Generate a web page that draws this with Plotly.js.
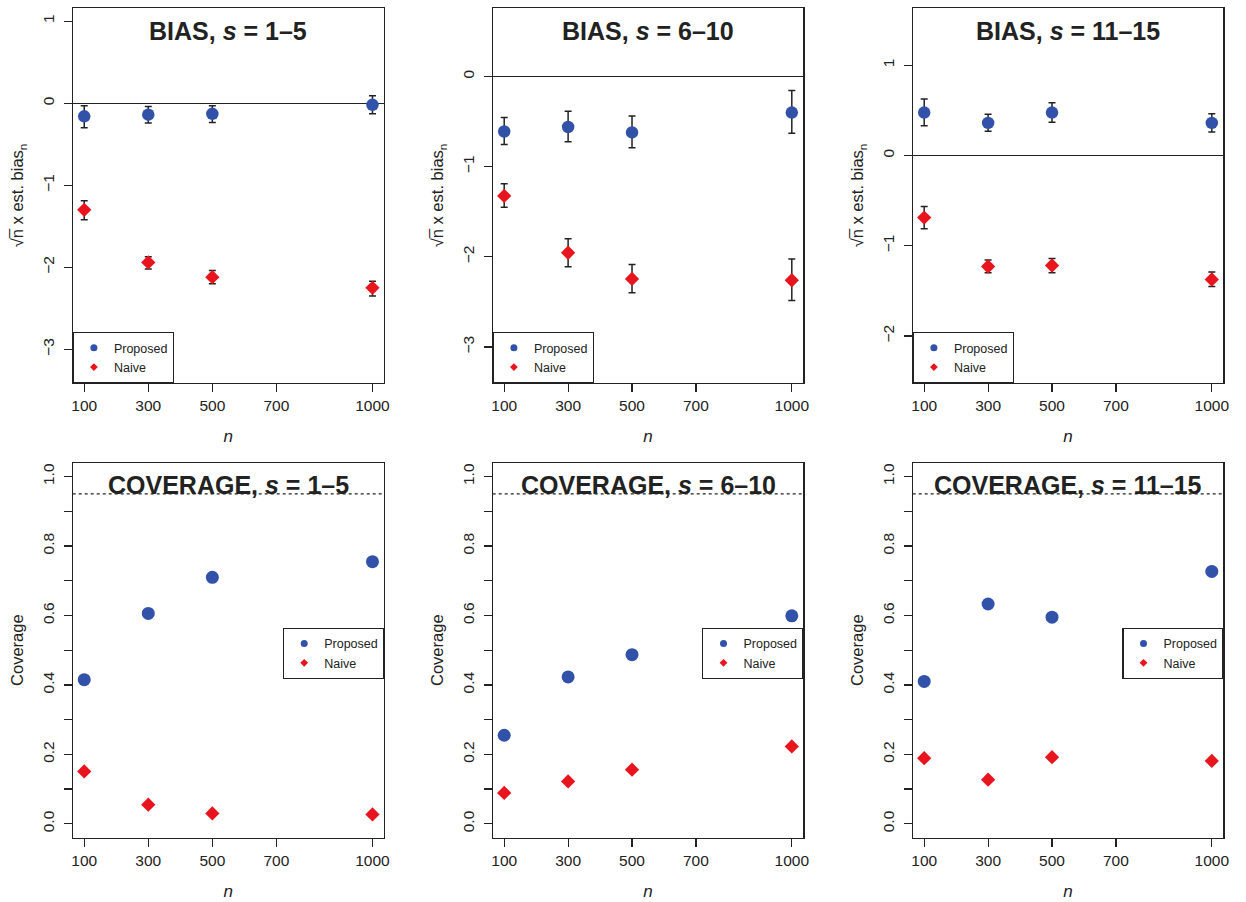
<!DOCTYPE html>
<html>
<head>
<meta charset="utf-8">
<script src="https://cdn.plot.ly/plotly-3.0.1.min.js"></script>
<style>html,body{margin:0;padding:0;background:#fff;}#chart{width:1246px;height:902px;}</style>
</head>
<body>
<div id="chart"></div>
<script>
// ---------- data ----------
const nValues = [100, 300, 500, 1000];
const xTickVals = [100, 300, 500, 700, 1000];

const panelTitles = ["BIAS, <i>s</i> = 1\u20135", "BIAS, <i>s</i> = 6\u201310", "BIAS, <i>s</i> = 11\u201315",
                     "COVERAGE, <i>s</i> = 1\u20135", "COVERAGE, <i>s</i> = 6\u201310", "COVERAGE, <i>s</i> = 11\u201315"];
const seriesNames = ["Proposed", "Naive"];

// Bias: estimates with CI bounds
const biasProposed1 = [-0.16, -0.14, -0.13, -0.02];
const biasProposedLo1 = [-0.30, -0.24, -0.235, -0.13];
const biasProposedHi1 = [-0.03, -0.04, -0.03, 0.09];
const biasNaive1 = [-1.30, -1.94, -2.12, -2.25];
const biasNaiveLo1 = [-1.42, -2.02, -2.20, -2.35];
const biasNaiveHi1 = [-1.19, -1.87, -2.04, -2.17];

const biasProposed2 = [-0.61, -0.56, -0.62, -0.40];
const biasProposedLo2 = [-0.755, -0.725, -0.79, -0.63];
const biasProposedHi2 = [-0.455, -0.385, -0.437, -0.155];
const biasNaive2 = [-1.325, -1.955, -2.245, -2.26];
const biasNaiveLo2 = [-1.45, -2.11, -2.40, -2.485];
const biasNaiveHi2 = [-1.19, -1.80, -2.085, -2.025];

const biasProposed3 = [0.476, 0.362, 0.476, 0.362];
const biasProposedLo3 = [0.329, 0.27, 0.37, 0.262];
const biasProposedHi3 = [0.628, 0.458, 0.584, 0.462];
const biasNaive3 = [-0.687, -1.229, -1.218, -1.373];
const biasNaiveLo3 = [-0.812, -1.299, -1.299, -1.45];
const biasNaiveHi3 = [-0.565, -1.158, -1.141, -1.29];

// Coverage
const covProposed1 = [0.415, 0.606, 0.710, 0.755];
const covNaive1 = [0.151, 0.055, 0.030, 0.027];
const covProposed2 = [0.255, 0.423, 0.487, 0.599];
const covNaive2 = [0.089, 0.122, 0.156, 0.223];
const covProposed3 = [0.410, 0.633, 0.595, 0.727];
const covNaive3 = [0.189, 0.127, 0.192, 0.181];
const nominalCoverage = 0.95;

const biasYTicks1 = [-3, -2, -1, 0, 1];
const biasYTicks2 = [-3, -2, -1, 0];
const biasYTicks3 = [-2, -1, 0, 1];
const covYTickVals = [0, 0.2, 0.4, 0.6, 0.8, 1.0];
const covYTickText = ["0.0", "0.2", "0.4", "0.6", "0.8", "1.0"];
const covYMinorTicks = [0.1, 0.3, 0.5, 0.7, 0.9];

// ---------- styling ----------
const BLUE = "#3152a8";
const RED = "#e8141e";
const INK = "#222222";
const FONT = "Liberation Sans, Arial, Helvetica, sans-serif";

const W = 1246, H = 902;
const colPx = [[72.7, 384], [492.7, 803.3], [912.7, 1223.3]];
const rowPx = [[8, 383], [462.7, 837.7]];
const xDom = colPx.map(c => [c[0] / W, c[1] / W]);
const yDom = rowPx.map(r => [1 - r[1] / H, 1 - r[0] / H]);

const biasSets = [
  [biasProposed1, biasProposedLo1, biasProposedHi1, biasNaive1, biasNaiveLo1, biasNaiveHi1],
  [biasProposed2, biasProposedLo2, biasProposedHi2, biasNaive2, biasNaiveLo2, biasNaiveHi2],
  [biasProposed3, biasProposedLo3, biasProposedHi3, biasNaive3, biasNaiveLo3, biasNaiveHi3]
];
const covSets = [[covProposed1, covNaive1], [covProposed2, covNaive2], [covProposed3, covNaive3]];
const biasRanges = [[-3.41, 1.16], [-3.40, 0.76], [-2.52, 1.635]];
const biasTicks = [biasYTicks1, biasYTicks2, biasYTicks3];

const traces = [];
const layout = {
  width: W, height: H,
  margin: {l: 0, r: 0, t: 0, b: 0},
  paper_bgcolor: "#fff", plot_bgcolor: "#fff",
  font: {family: FONT, color: INK, size: 15},
  showlegend: true,
  annotations: [], shapes: []
};

function errArrays(est, lo, hi) {
  return {
    type: "data", symmetric: false,
    array: est.map((v, i) => hi[i] - v),
    arrayminus: est.map((v, i) => v - lo[i]),
    color: INK, thickness: 1.5, width: 3.5
  };
}

function axisBase() {
  return {
    showline: true, mirror: true, linecolor: INK, linewidth: 1.2,
    ticks: "outside", ticklen: 8, tickwidth: 1.2, tickcolor: INK,
    showgrid: false, zeroline: false,
    tickfont: {size: 15.5, color: INK, family: FONT}
  };
}

for (let p = 0; p < 6; p++) {
  const idx = p + 1;
  const sfx = idx === 1 ? "" : String(idx);
  const xa = "x" + sfx, ya = "y" + sfx;
  const col = p % 3, row = Math.floor(p / 3);
  const legName = idx === 1 ? "legend" : "legend" + idx;

  if (row === 0) {
    const s = biasSets[col];
    traces.push({x: nValues, y: s[0], xaxis: xa, yaxis: ya, type: "scatter", mode: "markers",
      name: seriesNames[0], showlegend: false,
      marker: {color: BLUE, size: 12.5, symbol: "circle"}, error_y: errArrays(s[0], s[1], s[2])});
    traces.push({x: nValues, y: s[3], xaxis: xa, yaxis: ya, type: "scatter", mode: "markers",
      name: seriesNames[1], showlegend: false,
      marker: {color: RED, size: 11, symbol: "diamond"}, error_y: errArrays(s[3], s[4], s[5])});
  } else {
    const s = covSets[col];
    traces.push({x: nValues, y: s[0], xaxis: xa, yaxis: ya, type: "scatter", mode: "markers",
      name: seriesNames[0], showlegend: false, marker: {color: BLUE, size: 13, symbol: "circle"}});
    traces.push({x: nValues, y: s[1], xaxis: xa, yaxis: ya, type: "scatter", mode: "markers",
      name: seriesNames[1], showlegend: false, marker: {color: RED, size: 11, symbol: "diamond"}});
  }
  // legend entries (small key symbols as in the original)
  traces.push({x: [null], y: [null], xaxis: xa, yaxis: ya, type: "scatter", mode: "markers",
    name: seriesNames[0], legend: legName, marker: {color: BLUE, size: 7, symbol: "circle"}});
  traces.push({x: [null], y: [null], xaxis: xa, yaxis: ya, type: "scatter", mode: "markers",
    name: seriesNames[1], legend: legName, marker: {color: RED, size: 6, symbol: "diamond"}});

  const xax = axisBase();
  Object.assign(xax, {
    domain: xDom[col], anchor: ya, range: [64, 1036], tickvals: xTickVals,
    ticktext: xTickVals.map(String),
    title: {text: "<i>n</i>", font: {size: 17, color: INK, family: FONT}, standoff: 17}
  });
  const yax = axisBase();
  Object.assign(yax, {domain: yDom[row], anchor: xa, tickangle: -90, ticklabelstandoff: 3});
  if (row === 0) {
    Object.assign(yax, {
      range: biasRanges[col], tickvals: biasTicks[col],
      zeroline: true, zerolinecolor: INK, zerolinewidth: 1.2,
      title: {text: "\u221An\u0305 x est. bias<sub>n</sub>", font: {size: 16.5, color: INK, family: FONT}, standoff: 12}
    });
  } else {
    Object.assign(yax, {
      range: [-0.04, 1.04], tickvals: covYTickVals, ticktext: covYTickText,
      minor: {tickvals: covYMinorTicks, ticks: "outside", ticklen: 8, tickwidth: 1.2, tickcolor: INK, showgrid: false},
      title: {text: "Coverage", font: {size: 16.5, color: INK, family: FONT}, standoff: 12}
    });
    layout.shapes.push({type: "line", xref: xa + " domain", yref: ya, x0: 0, x1: 1,
      y0: nominalCoverage, y1: nominalCoverage, layer: "below",
      line: {color: INK, width: 1.2, dash: "dot"}});
  }
  layout["xaxis" + sfx] = xax;
  layout["yaxis" + sfx] = yax;

  layout.annotations.push({text: "<b>" + panelTitles[p] + "</b>", xref: xa + " domain", yref: ya + " domain",
    x: 0.5, y: 0.9395, xanchor: "center", yanchor: "middle", showarrow: false,
    font: {size: 25, color: INK, family: FONT}});

  const leg = {
    bgcolor: "#fff", bordercolor: INK, borderwidth: 1.2,
    font: {size: 12.5, color: INK, family: FONT},
    xref: "paper", yref: "paper", orientation: "v", tracegroupgap: 0, itemwidth: 30
  };
  if (row === 0) {
    Object.assign(leg, {x: xDom[col][0], xanchor: "left", y: yDom[row][0], yanchor: "bottom"});
  } else {
    Object.assign(leg, {x: xDom[col][1], xanchor: "right", y: 1 - 627.7 / H, yanchor: "top"});
  }
  layout[legName] = leg;
}

Plotly.newPlot("chart", traces, layout, {displayModeBar: false, staticPlot: true});
</script>
</body>
</html>
